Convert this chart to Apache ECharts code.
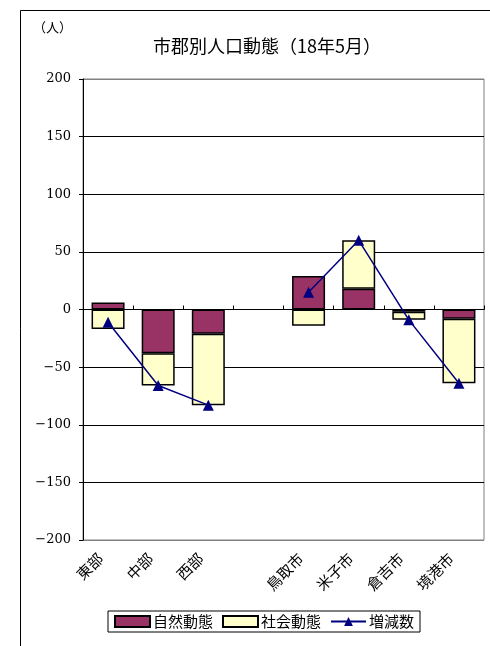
<!DOCTYPE html>
<html>
<head>
<meta charset="utf-8">
<script src="https://cdn.jsdelivr.net/npm/echarts@6/dist/echarts.min.js"></script>
<style>
  html, body { margin: 0; padding: 0; background: #fff; }
  #chart { width: 490px; height: 646px; }
</style>
</head>
<body>
<div id="chart"></div>
<script>
// 市郡別人口動態（18年5月）
var categories = ['東部', '中部', '西部', '', '鳥取市', '米子市', '倉吉市', '境港市'];
var natural = [6, -38, -21, '-', 29, 18, -2, -8];     // 自然動態
var social = [-17, -28, -62, '-', -14, 42, -7, -56];  // 社会動態
var total = [-11, -66, -83, '-', 15, 60, -9, -64];    // 増減数
var yMin = -200, yMax = 200, yStep = 50;

var serif = '"DejaVu Serif", "Liberation Serif", serif';
var jp = '"Noto Sans CJK JP", sans-serif';

var chart = echarts.init(document.getElementById('chart'));
chart.setOption({
  backgroundColor: '#fff',
  animation: false,
  title: {
    text: '市郡別人口動態（18年5月）',
    left: 262,
    textAlign: 'center',
    top: 32,
    textStyle: { fontFamily: jp, fontSize: 18, fontWeight: 'normal', color: '#000' }
  },
  graphic: [
    { type: 'rect', shape: { x: 20.5, y: 10.5, width: 520, height: 700 },
      style: { fill: 'none', stroke: '#000', lineWidth: 1 }, silent: true },
    { type: 'text', left: 33, top: 21,
      style: { text: '（人）', fontFamily: jp, fontSize: 13, fill: '#000' } }
  ],
  legend: {
    left: 108,
    top: 611,
    data: [
      { name: '自然動態', icon: 'rect' },
      { name: '社会動態', icon: 'rect' },
      { name: '増減数' }
    ],
    borderColor: '#000',
    borderWidth: 1,
    padding: [3, 6, 3, 6],
    itemGap: 9,
    itemWidth: 35,
    itemHeight: 11,
    textStyle: { fontFamily: jp, fontSize: 15, color: '#000', padding: [0, 0, 0, -2] }
  },
  grid: {
    left: 83, right: 6, top: 79, bottom: 106,
    show: true, borderColor: '#808080', borderWidth: 1
  },
  xAxis: [
    {
      type: 'category',
      data: categories,
      position: 'bottom',
      axisLine: { show: false, onZero: false },
      axisTick: { show: false },
      axisLabel: {
        rotate: 45, margin: 8, interval: 0, padding: [0, 11, 0, 0],
        fontFamily: jp, fontSize: 15, color: '#000'
      },
      splitLine: { show: false }
    },
    {
      type: 'category',
      data: categories,
      position: 'bottom',
      axisLine: { show: true, onZero: true, lineStyle: { color: '#000', width: 1 } },
      axisTick: { show: true, inside: true, length: 4, lineStyle: { color: '#000' } },
      axisLabel: { show: false },
      splitLine: { show: false }
    }
  ],
  yAxis: {
    type: 'value',
    min: yMin, max: yMax, interval: yStep,
    axisLine: { show: true, lineStyle: { color: '#000', width: 1 } },
    axisTick: { show: true, length: 4, lineStyle: { color: '#000' } },
    axisLabel: {
      margin: 12, fontFamily: serif, fontSize: 13, color: '#000',
      formatter: function (v) { return String(v).replace('-', '−'); }
    },
    splitLine: {
      show: true,
      lineStyle: {
        color: ['#808080', '#000', '#000', '#000', '#000', '#000', '#000', '#000', '#808080'],
        width: 1
      }
    }
  },
  series: [
    {
      name: '自然動態', type: 'bar', stack: 'p', xAxisIndex: 0,
      data: natural, barWidth: 33,
      itemStyle: { color: '#993366', borderColor: '#000', borderWidth: 1.5 }
    },
    {
      name: '社会動態', type: 'bar', stack: 'p', xAxisIndex: 0,
      data: social, barWidth: 33,
      itemStyle: { color: '#FFFFCC', borderColor: '#000', borderWidth: 1.5 }
    },
    {
      name: '増減数', type: 'line', xAxisIndex: 0,
      data: total, connectNulls: false,
      symbol: 'triangle', symbolSize: 11,
      lineStyle: { color: '#000080', width: 1.5 },
      itemStyle: { color: '#000080' },
      z: 5
    }
  ]
});
</script>
</body>
</html>
